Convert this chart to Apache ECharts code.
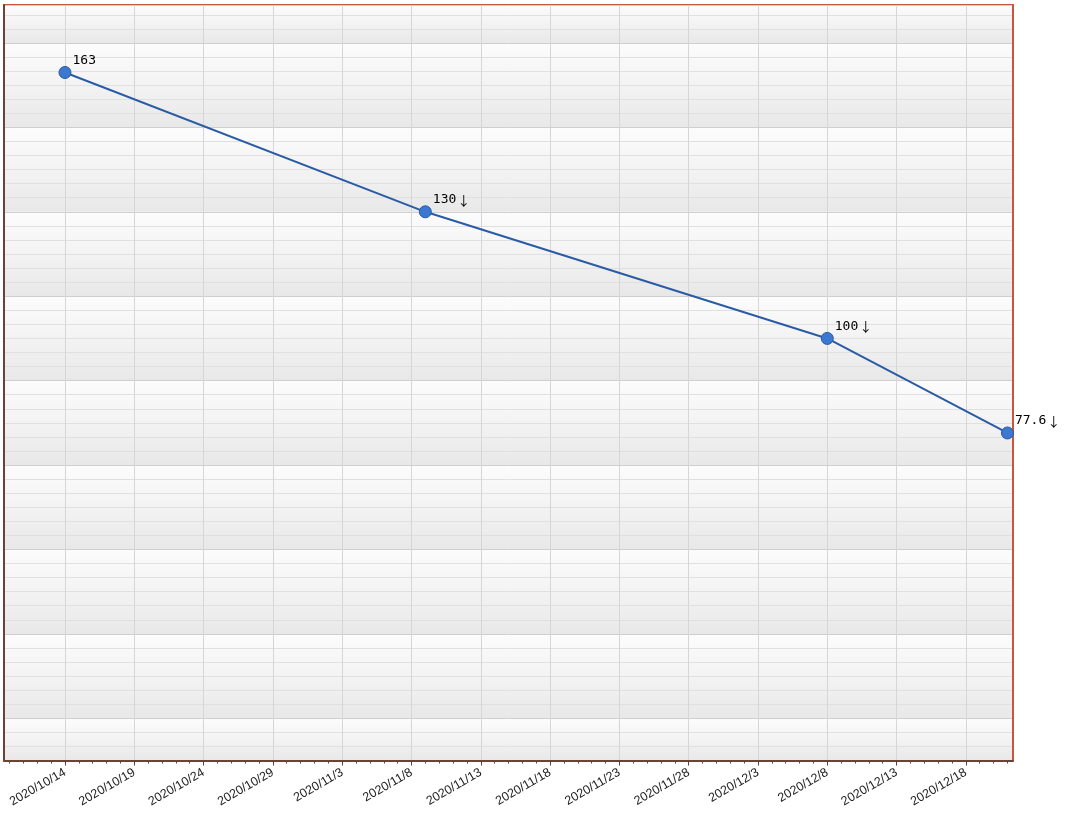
<!DOCTYPE html>
<html>
<head>
<meta charset="utf-8">
<script src="https://cdn.jsdelivr.net/npm/echarts@6/dist/echarts.min.js"></script>
<style>
html,body{margin:0;padding:0;background:#fff;}
#chart{width:1066px;height:817px;}
</style>
</head>
<body>
<div id="chart"></div>
<script>
// ---- data ----
var dates = ['2020/10/14', '2020/11/9', '2020/12/8', '2020/12/21'];
var values = [163, 130, 100, 77.6];
var pointLabels = ['163', '130', '100', '77.6'];
var pointArrows = ['', '↓', '↓', '↓'];
var tickLabels = ['2020/10/14', '2020/10/19', '2020/10/24', '2020/10/29', '2020/11/3', '2020/11/8',
  '2020/11/13', '2020/11/18', '2020/11/23', '2020/11/28', '2020/12/3', '2020/12/8', '2020/12/13', '2020/12/18'];

// ---- helpers ----
var DAY = 86400000;
function parseDate(s) { var p = s.split('/'); return Date.UTC(+p[0], +p[1] - 1, +p[2]); }
var origin = parseDate(dates[0]);
function dayOf(s) { return Math.round((parseDate(s) - origin) / DAY); }
function fmt(d) {
  var t = new Date(origin + d * DAY);
  return t.getUTCFullYear() + '/' + (t.getUTCMonth() + 1) + '/' + t.getUTCDate();
}
var tickDays = tickLabels.map(dayOf);
var xMin = -4.4, xMax = 68.4;
var dailyTicks = [];
for (var d = Math.ceil(xMin); d <= Math.floor(xMax); d++) dailyTicks.push(d);

var seriesData = dates.map(function (s, i) { return [dayOf(s), values[i]]; });

var bandGradient = new echarts.graphic.LinearGradient(0, 0, 0, 1, [
  { offset: 0, color: '#fcfcfc' },
  { offset: 0.45, color: '#f4f4f4' },
  { offset: 1, color: '#e8e8e8' }
]);
var frameRed = '#c9553b';
var frameBrown = '#6a4335';

var chart = echarts.init(document.getElementById('chart'));
chart.setOption({
  animation: false,
  backgroundColor: '#ffffff',
  grid: { left: 4, right: 53, top: 5, bottom: 56.5 },
  xAxis: [{
    type: 'value', min: xMin, max: xMax,
    axisLine: { show: true, onZero: false, lineStyle: { color: frameBrown, width: 2 } },
    axisTick: { show: true, length: 5, customValues: tickDays, lineStyle: { color: '#5a4035' } },
    axisLabel: {
      customValues: tickDays, rotate: 30, margin: 11,
      fontFamily: 'Liberation Sans', fontSize: 12.5, color: '#222',
      formatter: function (v) { return fmt(v); }
    },
    splitLine: { show: true, lineStyle: { color: '#d6d6d6', width: 1 } },
    z: 3
  }, {
    type: 'value', min: xMin, max: xMax, position: 'bottom',
    axisLine: { show: false, onZero: false },
    axisTick: { show: true, length: 3, customValues: dailyTicks, lineStyle: { color: '#5a4035' } },
    axisLabel: { show: false },
    splitLine: { show: false }
  }, {
    type: 'value', min: xMin, max: xMax, position: 'top',
    axisLine: { show: true, onZero: false, lineStyle: { color: frameRed, width: 2 } },
    axisTick: { show: false }, axisLabel: { show: false }, splitLine: { show: false }
  }],
  yAxis: [{
    type: 'value', min: 0, max: 179, position: 'left',
    axisLine: { show: true, onZero: false, lineStyle: { color: frameBrown, width: 2 } },
    axisTick: { show: false }, axisLabel: { show: false }, splitLine: { show: false },
    z: 3
  }, {
    type: 'value', min: -10, max: 169, splitNumber: 9, position: 'right',
    axisLine: { show: true, onZero: false, lineStyle: { color: frameRed, width: 2 } },
    axisTick: { show: false }, axisLabel: { show: false },
    minorTick: { show: false, splitNumber: 6 },
    splitLine: { show: true, lineStyle: { color: '#cfcfcf', width: 1 } },
    minorSplitLine: { show: true, lineStyle: { color: '#e0e0e0', width: 1 } },
    splitArea: { show: true, areaStyle: { color: [bandGradient] } },
    z: 3
  }],
  series: [{
    type: 'line', xAxisIndex: 0, yAxisIndex: 0,
    data: seriesData,
    symbol: 'circle', symbolSize: 12,
    lineStyle: { color: '#2a5ba6', width: 2 },
    itemStyle: { color: '#3a78d2', borderColor: '#2a5aa0', borderWidth: 1 },
    label: {
      show: true, position: 'right', distance: 1, offset: [0, -12],
      color: '#000',
      formatter: function (p) {
        var a = pointArrows[p.dataIndex];
        return '{n|' + pointLabels[p.dataIndex] + '}' + (a ? '{a|' + a + '}' : '');
      },
      rich: {
        n: { fontFamily: 'DejaVu Sans Mono', fontSize: 13, color: '#000' },
        a: { fontFamily: 'Noto Sans CJK SC', fontSize: 13, color: '#000', padding: [0, 0, 0, 1] }
      }
    },
    z: 5
  }]
});
</script>
</body>
</html>
